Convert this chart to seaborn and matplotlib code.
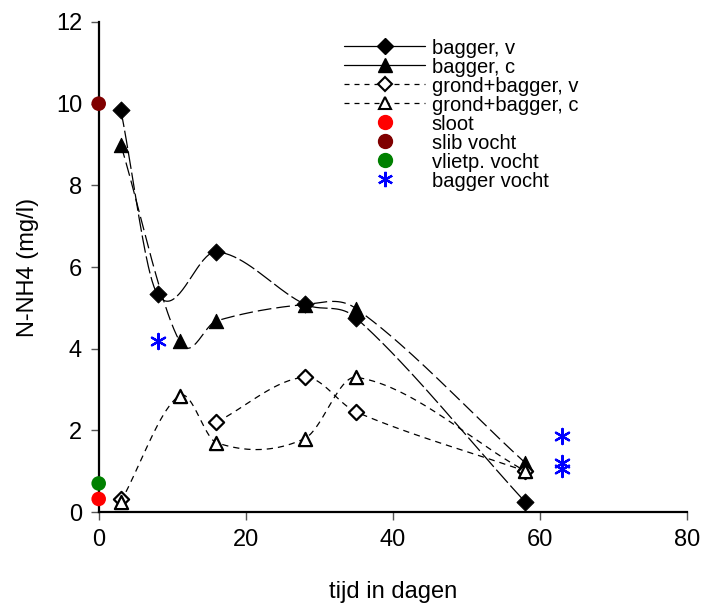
import numpy as np
import matplotlib
matplotlib.use("Agg")
import matplotlib.pyplot as plt
from matplotlib.lines import Line2D
import seaborn as sns

# ---- data ----
bv_x = [3, 8, 16, 28, 35, 58]
bv_y = [9.85, 5.33, 6.37, 5.09, 4.75, 0.24]
bc_x = [3, 11, 16, 28, 35, 58]
bc_y = [9.0, 4.18, 4.68, 5.08, 4.98, 1.2]
gv_x = [3, 16, 28, 35, 58]
gv_y = [0.32, 2.2, 3.3, 2.45, 1.0]
gc_x = [3, 11, 16, 28, 35, 58]
gc_y = [0.25, 2.85, 1.7, 1.8, 3.3, 1.0]
sloot_x, sloot_y = [0], [0.32]
slib_x, slib_y = [0], [10.0]
vliet_x, vliet_y = [0], [0.7]
bvocht_x = [8, 63, 63, 63]
bvocht_y = [4.2, 1.85, 1.2, 1.05]

x_ticks = [0, 20, 40, 60, 80]
y_ticks = [0, 2, 4, 6, 8, 10, 12]


def smooth(xs, ys, n=40):
    xs = np.asarray(xs, float)
    ys = np.asarray(ys, float)
    m = np.zeros_like(ys)
    m[0] = (ys[1] - ys[0]) / (xs[1] - xs[0])
    m[-1] = (ys[-1] - ys[-2]) / (xs[-1] - xs[-2])
    for i in range(1, len(xs) - 1):
        m[i] = (ys[i + 1] - ys[i - 1]) / (xs[i + 1] - xs[i - 1])
    ox, oy = [], []
    for i in range(len(xs) - 1):
        h = xs[i + 1] - xs[i]
        t = np.linspace(0, 1, n, endpoint=(i == len(xs) - 2))
        h00 = 2 * t**3 - 3 * t**2 + 1
        h10 = t**3 - 2 * t**2 + t
        h01 = -2 * t**3 + 3 * t**2
        h11 = t**3 - t**2
        ox.extend(xs[i] + t * h)
        oy.extend(h00 * ys[i] + h10 * h * m[i] + h01 * ys[i + 1] + h11 * h * m[i + 1])
    return np.array(ox), np.array(oy)


sns.set_style("ticks")
plt.rcParams['font.family'] = ['Liberation Sans', 'DejaVu Sans']
plt.rcParams['text.color'] = 'black'
plt.rcParams['axes.labelcolor'] = 'black'
plt.rcParams['xtick.color'] = 'black'
plt.rcParams['ytick.color'] = 'black'

fig = plt.figure(figsize=(7.10, 6.11), dpi=100)
ax = fig.add_axes([0.139, 0.162, 0.829, 0.802])

long_dash = (14, 3)
short_dash = (5, 4)

curves = [(bv_x, bv_y, long_dash), (bc_x, bc_y, (11, 4)),
          (gv_x[1:], gv_y[1:], short_dash), (gc_x, gc_y, short_dash)]
for xs, ys, dash in curves:
    sx, sy = smooth(xs, ys)
    l = sns.lineplot(x=sx, y=sy, ax=ax, color='black', lw=0.9, sort=False,
                     estimator=None)
    l.lines[-1].set_dashes(dash)

ms = 75
sns.scatterplot(x=bv_x, y=bv_y, ax=ax, marker='D', s=ms, color='black',
                edgecolor='black', zorder=5)
sns.scatterplot(x=bc_x, y=bc_y, ax=ax, marker='^', s=ms + 30, color='black',
                edgecolor='black', zorder=5)
sns.scatterplot(x=gv_x, y=gv_y, ax=ax, marker='D', s=ms - 15, color='white',
                edgecolor='black', linewidth=1.6, zorder=5)
sns.scatterplot(x=gc_x, y=gc_y, ax=ax, marker='^', s=ms + 15, color='white',
                edgecolor='black', linewidth=1.6, zorder=5)
sns.scatterplot(x=sloot_x, y=sloot_y, ax=ax, marker='o', s=110, color='#ff0000',
                edgecolor='none', zorder=6, clip_on=False)
sns.scatterplot(x=slib_x, y=slib_y, ax=ax, marker='o', s=110, color='#800000',
                edgecolor='none', zorder=6, clip_on=False)
sns.scatterplot(x=vliet_x, y=vliet_y, ax=ax, marker='o', s=110, color='#008000',
                edgecolor='none', zorder=6, clip_on=False)
ax.scatter(bvocht_x, bvocht_y, marker=(6, 2, 0), s=120, color='#0000ff',
           linewidths=1.6, zorder=6)

ax.set_xlim(0, 80)
ax.set_ylim(0, 12)
ax.set_xticks(x_ticks)
ax.set_yticks(y_ticks)
ax.tick_params(axis='both', labelsize=17, direction='out', length=6,
               width=1, color='#555555', pad=6)
ax.set_xlabel('tijd in dagen', fontsize=17, labelpad=22)
ax.set_ylabel('N-NH4 (mg/l)', fontsize=17, labelpad=12)
sns.despine(ax=ax)
for s in ['left', 'bottom']:
    ax.spines[s].set_linewidth(1.6)
    ax.spines[s].set_color('black')

handles = [
    Line2D([], [], color='black', lw=0.9, marker='D', markersize=8),
    Line2D([], [], color='black', lw=0.9, marker='^', markersize=10),
    Line2D([], [], color='black', lw=0.9, ls=(0, (4, 4)), marker='D',
           markersize=7, markerfacecolor='white', markeredgewidth=1.5),
    Line2D([], [], color='black', lw=0.9, ls=(0, (4, 4)), marker='^',
           markersize=9, markerfacecolor='white', markeredgewidth=1.5),
    Line2D([], [], ls='none', marker='o', markersize=10, color='#ff0000'),
    Line2D([], [], ls='none', marker='o', markersize=10, color='#800000'),
    Line2D([], [], ls='none', marker='o', markersize=10, color='#008000'),
    Line2D([], [], ls='none', marker=(6, 2, 0), markersize=11, color='#0000ff',
           markeredgewidth=1.6),
]
labels = ['bagger, v', 'bagger, c', 'grond+bagger, v', 'grond+bagger, c',
          'sloot', 'slib vocht', 'vlietp. vocht', 'bagger vocht']
leg = ax.legend(handles, labels, loc='upper left', bbox_to_anchor=(0.395, 0.993),
                frameon=False, fontsize=14.5, labelspacing=0.0,
                handlelength=4.0, handletextpad=0.35, borderaxespad=0.25)

fig.savefig('out.png', dpi=100)
